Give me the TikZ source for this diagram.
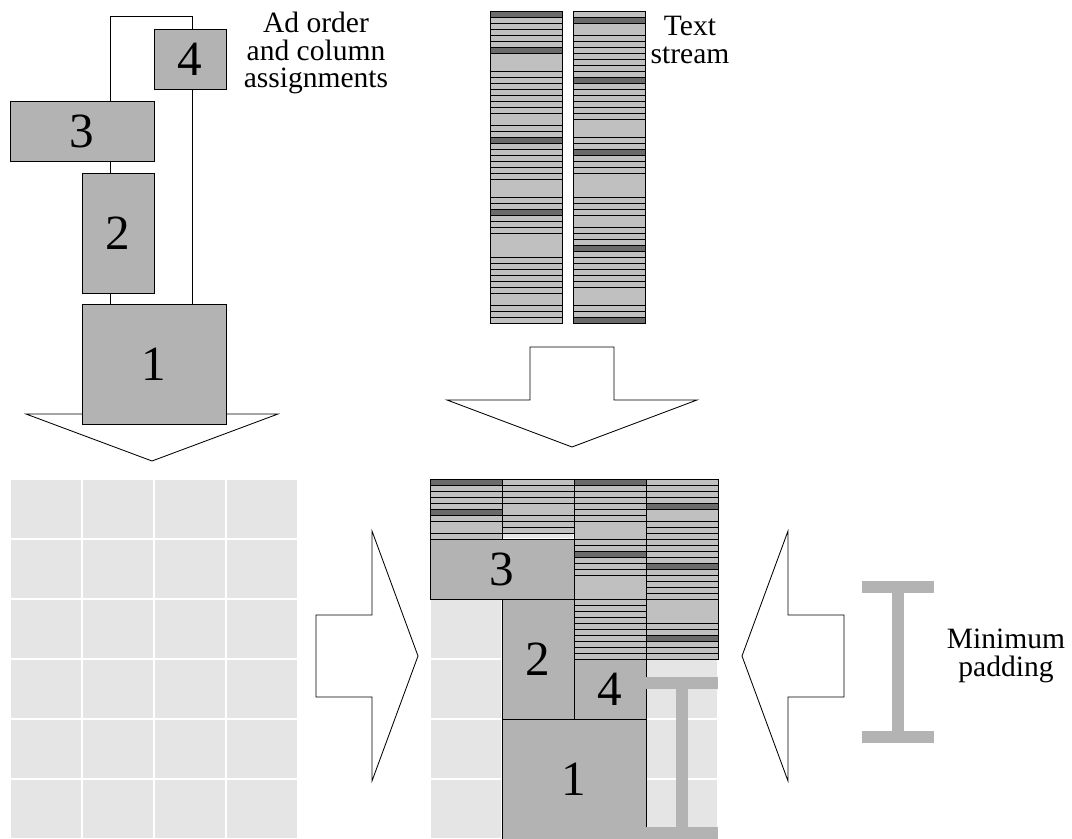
\documentclass[tikz,border=0pt]{standalone}
\usepackage{fontspec}
\setmainfont{Liberation Serif}
\begin{document}
\begin{tikzpicture}[
    x=0.025cm, y=-0.025cm,
    thinline/.style={draw=black, line width=0.6pt},
    cell/.style={fill=cellg},
    adbox/.style={thinline, fill=boxg, inner sep=0pt, font=\fontsize{35}{35}\selectfont},
    unitbox/.style={adbox, minimum width={\cw*\u}, minimum height={\rh*\u}},
    widebox/.style={adbox, minimum width={2*\cw*\u}, minimum height={\rh*\u}},
    tallbox/.style={adbox, minimum width={\cw*\u}, minimum height={2*\rh*\u}},
    bigbox/.style={adbox, minimum width={2*\cw*\u}, minimum height={2*\rh*\u}},
    conn/.style={thinline},
    bigarrow/.style={thinline, fill=white, line join=miter},
    beam/.style={fill=boxg},
    lab/.style={align=center, font=\fontsize{21}{19.5}\selectfont},
  ]
  \definecolor{boxg}{HTML}{B3B3B3}
  \definecolor{cellg}{HTML}{E5E5E5}
  \definecolor{ln}{HTML}{C0C0C0}
  \definecolor{hd}{HTML}{6B6B6B}
  \def\u{0.025cm}
  \def\cw{72}
  \def\rh{60}
  \def\textcol#1#2#3{%
    \xdef\ycur{#2}%
    \foreach \h/\c in {#3} {%
      \filldraw[thinline, fill=\c] (#1,\ycur) rectangle ++(\cw,\h);
      \pgfmathsetmacro\ynext{\ycur+\h}%
      \xdef\ycur{\ynext}%
    }%
  }
  \useasboundingbox (0,0) rectangle (1072,839);
  \foreach \gx in {10,430} {
    \foreach \c in {0,...,3} {
      \foreach \r in {0,...,5} {\fill[cell] (\gx+\c*\cw+1,479+\r*\rh+1) rectangle ++(\cw-2,\rh-2);}
    }
  }
  \textcol{490}{11}{6/hd,6/ln,6/ln,6/ln,6/ln,6/ln,6/hd,18/ln,6/ln,6/ln,6/ln,6/ln,6/ln,6/ln,6/ln,12/ln,6/ln,6/ln,6/hd,6/ln,6/ln,6/ln,6/ln,6/ln,6/ln,18/ln,6/ln,6/ln,6/hd,6/ln,6/ln,6/ln,24/ln,6/ln,6/ln,6/ln,6/ln,6/ln,6/ln,12/ln,6/ln,6/ln,6/ln}
  \textcol{573}{11}{6/ln,6/hd,12/ln,6/ln,6/ln,6/ln,6/ln,6/ln,6/ln,6/ln,6/hd,6/ln,6/ln,6/ln,6/ln,6/ln,6/ln,18/ln,6/ln,6/ln,6/hd,6/ln,6/ln,6/ln,24/ln,6/ln,6/ln,6/ln,12/ln,6/ln,6/ln,6/ln,6/hd,6/ln,6/ln,6/ln,6/ln,6/ln,6/ln,18/ln,6/ln,6/ln,6/hd}
  \textcol{430}{479}{6/hd,6/ln,6/ln,6/ln,6/ln,6/hd,6/ln,12/ln,6/ln}
  \textcol{502}{479}{6/ln,6/ln,6/ln,6/ln,12/ln,6/ln,6/ln,6/ln}
  \textcol{574}{479}{6/hd,6/ln,6/ln,6/ln,6/ln,6/ln,6/ln,18/ln,6/ln,6/ln,6/hd,6/ln,6/ln,6/ln,24/ln,6/ln,6/ln,6/ln,6/ln,6/ln,6/ln,6/ln,6/ln,6/ln,6/ln}
  \textcol{646}{479}{6/ln,6/ln,6/ln,6/ln,6/hd,12/ln,6/ln,6/ln,6/ln,6/ln,6/ln,6/ln,6/ln,6/hd,6/ln,6/ln,6/ln,6/ln,6/ln,24/ln,6/ln,6/ln,6/hd,6/ln,6/ln,6/ln}
  \node[widebox] (r3) at (502,569) {3};
  \node[tallbox] (r2) at (538,659) {2};
  \node[unitbox] (r4) at (610,689) {4};
  \node[bigbox] (r1) at (574,779) {1};
  \foreach \bx/\by in {646/677, 862/581} {
    \fill[beam] (\bx,\by) rectangle ++(\cw,12);
    \fill[beam] (\bx+30,\by) rectangle ++(12,162);
    \fill[beam] (\bx,\by+150) rectangle ++(\cw,12);
  }
  \draw[bigarrow] (110,360) -- (194,360) -- (194,414) -- (278,414) -- (152,461) -- (26,414) -- (110,414) -- cycle;
  \node[unitbox] (a4) at (190,59) {4};
  \node[widebox] (a3) at (82,131) {3};
  \node[tallbox] (a2) at (118,233) {2};
  \node[bigbox] (a1) at (154,364) {1};
  \coordinate (s1) at (110,16);
  \coordinate (s2) at (192,16);
  \draw[conn] (a3.north -| s1) -- (s1) -- (s2) -- (a4.north -| s2);
  \draw[conn] (a3.south -| s1) -- (a2.north -| s1);
  \draw[conn] (a2.south -| s1) -- (a1.north -| s1);
  \draw[conn] (a4.south -| s2) -- (a1.north -| s2);
  \draw[bigarrow] (530,347) -- (614,347) -- (614,400) -- (697,400) -- (572,447) -- (447,400) -- (530,400) -- cycle;
  \draw[bigarrow] (316,615) -- (372,615) -- (372,531) -- (418,656) -- (372,781) -- (372,697) -- (316,697) -- cycle;
  \draw[bigarrow] (844,615) -- (788,615) -- (788,531) -- (742,656) -- (788,781) -- (788,697) -- (844,697) -- cycle;
  \node[lab] (order) at (316,53) {Ad order\\and column\\assignments};
  \node[lab] (stream) at (690,40) {Text\\stream};
  \node[lab] (pad) at (1006,656) {Minimum\\padding};
\end{tikzpicture}
\end{document}
